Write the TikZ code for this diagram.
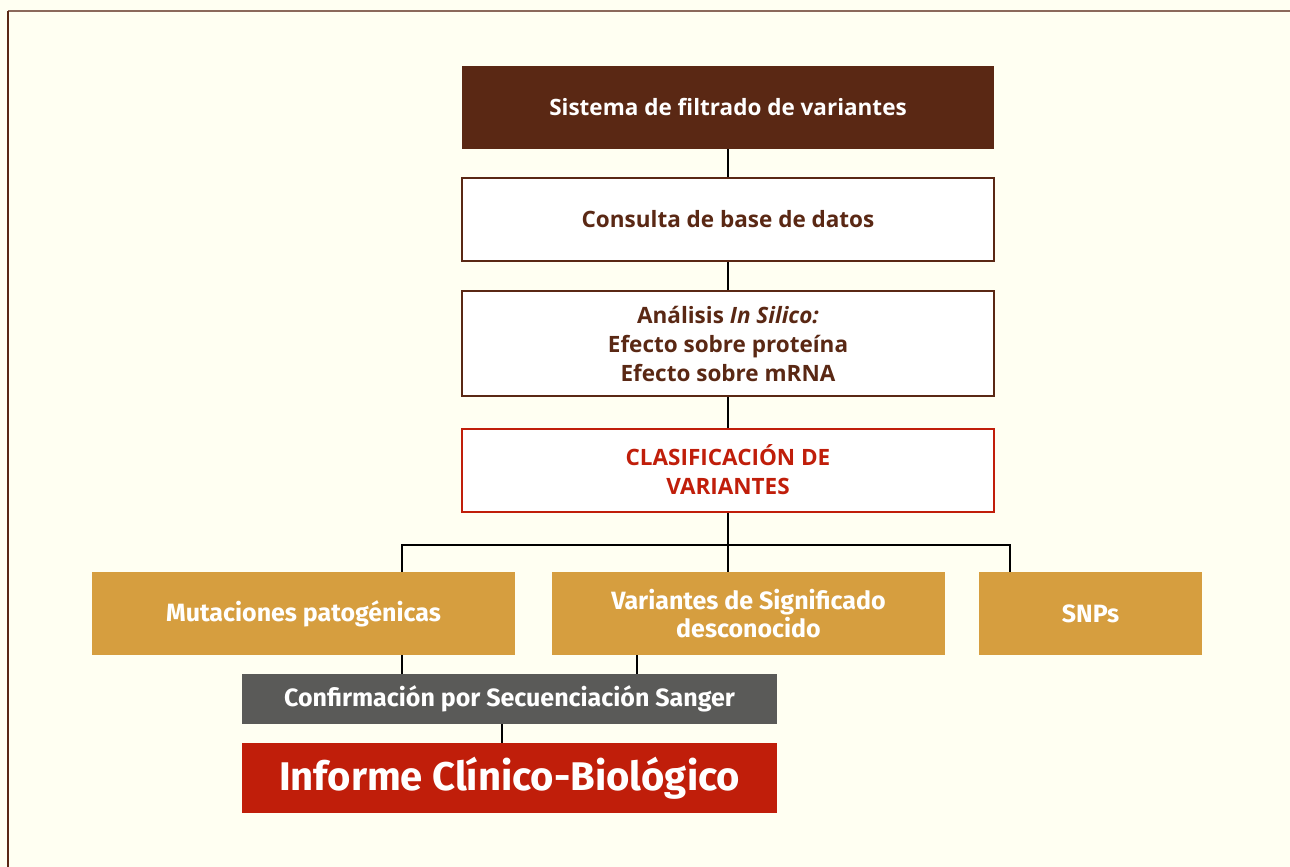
\documentclass[tikz,border=0pt]{standalone}
\usepackage{fontspec}
\setmainfont{Fira Sans}
\newfontfamily\anchafont{Open Sans}
\definecolor{fondo}{HTML}{FFFFF2}
\definecolor{marron}{HTML}{5A2814}
\definecolor{rojo}{HTML}{C01E0A}
\definecolor{ocre}{HTML}{D69E3F}
\definecolor{gris}{HTML}{5A5A58}
\tikzset{
  caja/.style={minimum width=532pt, minimum height=83pt, align=center, font=\anchafont\bfseries\fontsize{22.5}{29}\selectfont, inner sep=0pt},
  cajallena/.style={caja, fill=marron, text=white},
  cajablanca/.style={caja, draw=marron, line width=2pt, fill=white, text=marron},
  cajaroja/.style={caja, draw=rojo, line width=2pt, fill=white, text=rojo},
  rama/.style={minimum height=83pt, fill=ocre, text=white, align=center, inner sep=0pt, font=\bfseries\fontsize{25}{28}\selectfont},
  union/.style={line width=2pt, black},
}
\begin{document}
\begin{tikzpicture}[x=1pt, y=-1pt]
    \useasboundingbox[fill=fondo] (0,0) rectangle (1290,867);
    \draw[marron!70, line width=1.5pt] (1290,11) -- (8,11);
    \draw[marron, line width=2pt] (8,11) -- (8,867);

    % columna central
    \node[cajallena] (filtro) at (728,107.5) {Sistema de filtrado de variantes};
    \node[cajablanca] (consulta) at (728,219.5) {Consulta de base de datos};
    \node[cajablanca, minimum height=105pt] (silico) at (728,343.5)
        {Análisis \textit{In Silico:}\\Efecto sobre proteína\\Efecto sobre mRNA};
    \node[cajaroja] (clasif) at (728,470) {CLASIFICACIÓN DE\\VARIANTES};

    % ramas
    \node[rama, minimum width=423pt] (patog) at (303.5,613.5) {Mutaciones patogénicas};
    \node[rama, minimum width=393pt] (vsd) at (748.5,613.5) {Variantes de Significado\\desconocido};
    \node[rama, minimum width=223pt] (snp) at (1090.5,613.5) {SNPs};

    \node[minimum width=535pt, minimum height=50pt, fill=gris, text=white, inner sep=0pt,
          font=\bfseries\fontsize{25}{27}\selectfont] (sanger) at (509.5,699) {Confirmación por Secuenciación Sanger};
    \node[minimum width=535pt, minimum height=70pt, fill=rojo, text=white, inner sep=0pt,
          font=\bfseries\fontsize{40}{44}\selectfont] (informe) at (509.5,778) {Informe Clínico-Biológico};

    % conectores
    \draw[union] (filtro) -- (consulta);
    \draw[union] (consulta) -- (silico);
    \draw[union] (silico) -- (clasif);
    \coordinate (cruce) at (728,545);
    \draw[union] (clasif) -- (vsd.north -| clasif.south);
    \draw[union] (patog.north -| 402,0) |- (cruce) -| (snp.north -| 1010,0);
    \draw[union] (patog.south -| 402,0) -- (sanger.north -| 402,0);
    \draw[union] (vsd.south -| 637,0) -- (sanger.north -| 637,0);
    \draw[union] (sanger.south -| 502,0) -- (informe.north -| 502,0);
\end{tikzpicture}
\end{document}
